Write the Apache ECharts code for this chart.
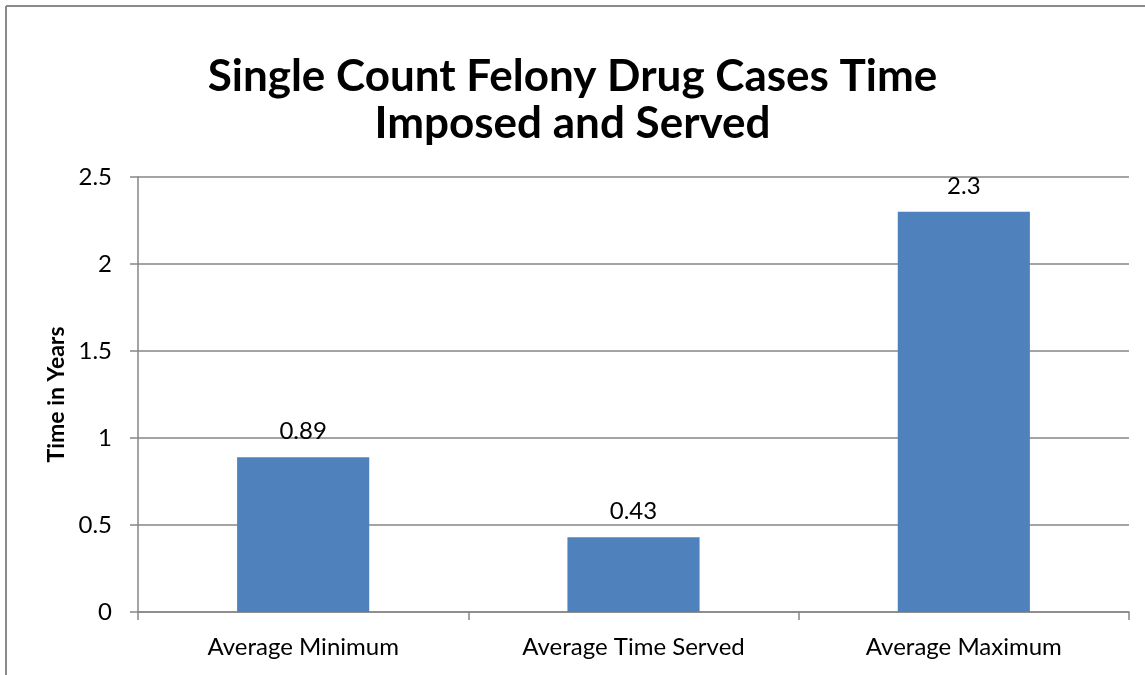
<!DOCTYPE html>
<html><head><meta charset="utf-8">
<script src="https://cdn.jsdelivr.net/npm/echarts@6/dist/echarts.min.js"></script>
<style>html,body{margin:0;padding:0;background:#fff}#c{width:1145px;height:675px}</style>
</head><body><div id="c"></div>
<script>
const categories = ["Average Minimum", "Average Time Served", "Average Maximum"];
const values = [0.89, 0.43, 2.3];
const titleText = "Single Count Felony Drug Cases Time\nImposed and Served";
const yAxisTitle = "Time in Years";

const FONT = "Lato";
const chart = echarts.init(document.getElementById('c'));
chart.setOption({
  backgroundColor: '#fff',
  animation: false,
  title: {
    text: titleText, left: 'center', top: 48,
    textStyle: {fontFamily: FONT, fontWeight: 'bold', fontSize: 44, color: '#000', lineHeight: 47}
  },
  graphic: [
    {type: 'line', shape: {x1: 6, y1: 6, x2: 1145, y2: 6}, style: {stroke: '#8a8a8a', lineWidth: 2}},
    {type: 'line', shape: {x1: 6, y1: 6, x2: 6, y2: 675}, style: {stroke: '#8a8a8a', lineWidth: 2}}
  ],
  grid: {left: 138, right: 16, top: 177, bottom: 63},
  xAxis: {
    type: 'category', data: categories,
    axisLine: {lineStyle: {color: '#868686', width: 1.5}},
    axisTick: {show: true, length: 8, lineStyle: {color: '#868686', width: 1.5}},
    axisLabel: {fontFamily: FONT, fontSize: 24, color: '#000', margin: 23}
  },
  yAxis: {
    type: 'value', min: 0, max: 2.5, interval: 0.5,
    name: yAxisTitle, nameLocation: 'middle', nameGap: 69, nameRotate: 90,
    nameTextStyle: {fontFamily: FONT, fontWeight: 'bold', fontSize: 23, color: '#000'},
    axisLine: {show: true, lineStyle: {color: '#868686', width: 1.5}},
    axisTick: {show: true, length: 8, lineStyle: {color: '#868686', width: 1.5}},
    axisLabel: {fontFamily: FONT, fontSize: 24, color: '#000', margin: 26},
    splitLine: {lineStyle: {color: '#868686', width: 1.5}}
  },
  series: [{
    type: 'bar', data: values, barWidth: '40%',
    itemStyle: {color: '#4F81BD'},
    label: {show: true, position: 'top', distance: 14, fontFamily: FONT, fontSize: 24, color: '#000'}
  }]
});
</script></body></html>
